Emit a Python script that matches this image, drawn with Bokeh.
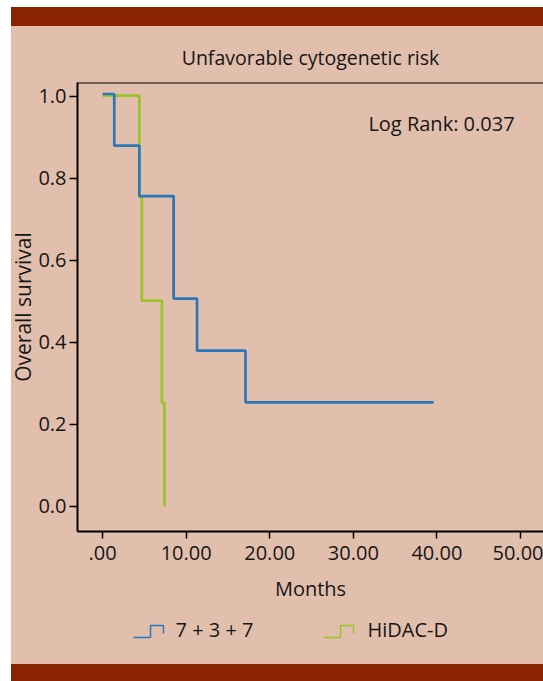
from bokeh.plotting import figure
from bokeh.layouts import column
from bokeh.models import Range1d, FixedTicker, PrintfTickFormatter, Span, Label, Spacer
from bokeh.embed import file_html
from bokeh.resources import INLINE

# ---- text ----
title_text = "Unfavorable cytogenetic risk"
x_axis_label = "Months"
y_axis_label = "Overall survival"
annotation_text = "Log Rank: 0.037"
series_names = ["7 + 3 + 7", "HiDAC-D"]

# ---- data ----
arm1_months = [0.0, 1.4, 4.4, 8.5, 11.3, 17.1, 39.6]
arm1_survival = [1.006, 0.88, 0.757, 0.507, 0.38, 0.254, 0.254]
arm2_months = [0.0, 4.4, 4.7, 7.1, 7.4]
arm2_survival = [1.002, 0.755, 0.502, 0.253, 0.0]

x_ticks = [0, 10, 20, 30, 40, 50]
x_tick_labels = [".00", "10.00", "20.00", "30.00", "40.00", "50.00"]
y_ticks = [0.0, 0.2, 0.4, 0.6, 0.8, 1.0]

# ---- style ----
FONT = "Open Sans"
BG = "#E2BFAD"
BAND = "#8A2300"
BLUE = "#2A77BD"
GREEN = "#99C425"
INK = "#161616"


def strip(color):
    # white margin on the left, then the page colour
    return {"background": f"linear-gradient(to right, #ffffff 0px, #ffffff 11px, {color} 11px, {color} 100%)"}


W = 543
band_top = Spacer(width=W, height=19, styles=strip(BAND))
band_bottom = Spacer(width=W, height=17, styles=strip(BAND))

# ---- main plot ----
p = figure(width=W, height=579, x_range=Range1d(-3.0, 52.75), y_range=Range1d(-0.061, 1.0341),
           toolbar_location=None, output_backend="svg",
           min_border_left=77, min_border_right=0, min_border_top=56, min_border_bottom=74,
           background_fill_color=BG, border_fill_color=None, outline_line_color=None,
           title=title_text, styles=strip(BG))
p.grid.visible = False
p.title.align = "center"
p.title.text_font = FONT
p.title.text_font_size = "19.5px"
p.title.text_font_style = "normal"
p.title.text_color = INK
p.title.standoff = 24

for ax in (p.xaxis[0], p.yaxis[0]):
    ax.axis_line_color = "black"
    ax.axis_line_width = 2
    ax.major_tick_line_color = "black"
    ax.major_tick_line_width = 1.5
    ax.major_tick_in = 0
    ax.major_tick_out = 8
    ax.minor_tick_line_color = None
    ax.major_label_text_font = FONT
    ax.major_label_text_font_size = "20px"
    ax.major_label_text_color = INK
    ax.axis_label_text_font = FONT
    ax.axis_label_text_font_size = "20px"
    ax.axis_label_text_font_style = "normal"
    ax.axis_label_text_color = INK

p.xaxis.ticker = FixedTicker(ticks=x_ticks)
p.xaxis.major_label_overrides = dict(zip(x_ticks, x_tick_labels))
p.xaxis.axis_label = x_axis_label
p.xaxis.major_tick_out = 7
p.xaxis.major_label_standoff = 7
p.xaxis.axis_label_standoff = 12

p.yaxis.ticker = FixedTicker(ticks=y_ticks)
p.yaxis.formatter = PrintfTickFormatter(format="%.1f")
p.yaxis.axis_label = y_axis_label
p.yaxis.axis_label_text_font_size = "21px"
p.yaxis.major_label_standoff = 3
p.yaxis.axis_label_standoff = -2

p.add_layout(Span(location=p.y_range.end, dimension="width", line_color="black", line_width=2))

p.step(arm2_months, arm2_survival, mode="after", line_color=GREEN, line_width=2.7)
p.step(arm1_months, arm1_survival, mode="after", line_color=BLUE, line_width=2.7)

p.add_layout(Label(x=31.8, y=0.935, text=annotation_text, text_font=FONT,
                   text_font_size="20px", text_baseline="alphabetic", text_color=INK))

# ---- legend ----
lg = figure(width=W, height=59, x_range=Range1d(77, 543), y_range=Range1d(664, 605),
            toolbar_location=None, output_backend="svg", min_border=0,
            x_axis_location=None, y_axis_location=None,
            background_fill_color=None, border_fill_color=None, outline_line_color=None,
            styles=strip(BG))
lg.grid.visible = False

icon_x = [0, 17, 17, 30, 30]
icon_y = [637, 637, 625, 625, 633]
legend_x = [133, 323]
text_x = [175, 367]
for name, color, ix, tx in zip(series_names, [BLUE, GREEN], legend_x, text_x):
    lg.line([ix + d for d in icon_x], icon_y, line_color=color, line_width=1.5)
    lg.add_layout(Label(x=tx, y=629, text=name, text_font=FONT, text_font_size="20px",
                        text_baseline="alphabetic", text_color=INK))

layout = column(Spacer(width=W, height=7), band_top, p, lg, band_bottom)

open("out.html", "w").write(file_html(layout, INLINE))
